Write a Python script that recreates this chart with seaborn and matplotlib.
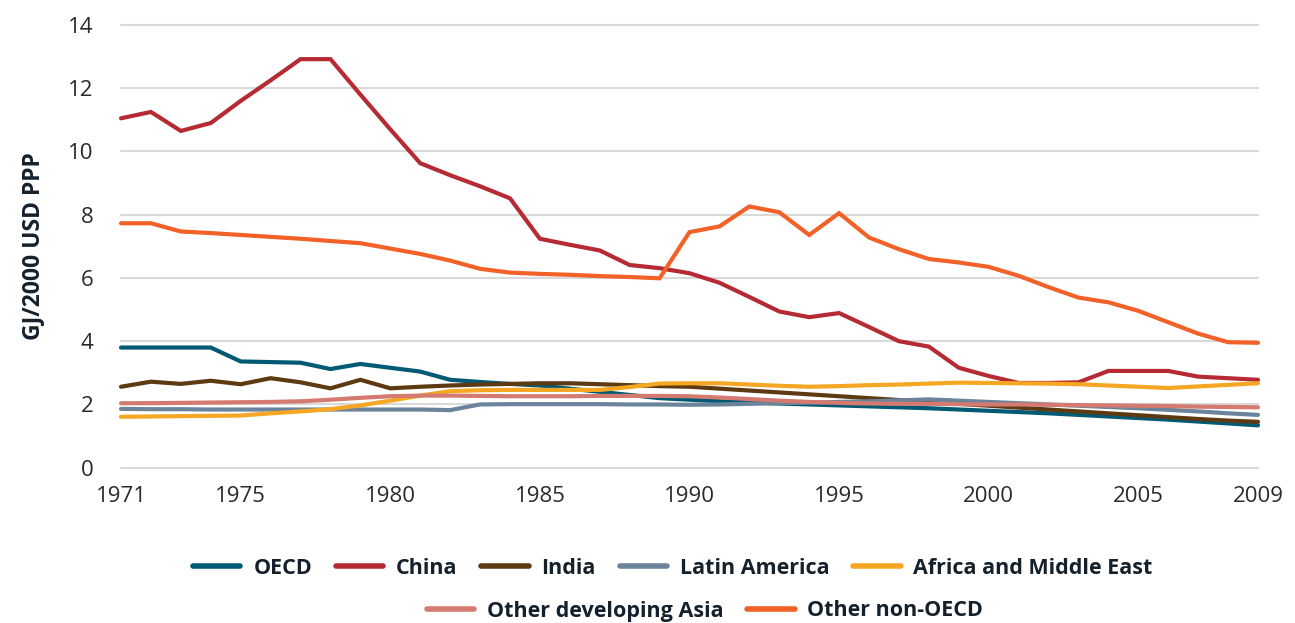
import matplotlib
matplotlib.use("Agg")
import matplotlib.pyplot as plt
import seaborn as sns
import pandas as pd

years = list(range(1971, 2010))

oecd = [3.80, 3.80, 3.80, 3.80, 3.36, 3.34, 3.32, 3.12, 3.28, 3.16,
        3.04, 2.78, 2.71, 2.65, 2.60, 2.50, 2.40, 2.30, 2.20, 2.15,
        2.10, 2.07, 2.03, 2.00, 1.97, 1.94, 1.91, 1.88, 1.84, 1.80,
        1.76, 1.72, 1.67, 1.62, 1.57, 1.52, 1.46, 1.40, 1.34]
china = [11.05, 11.25, 10.65, 10.90, 11.60, 12.25, 12.92, 12.92, 11.80, 10.70,
         9.63, 9.25, 8.90, 8.52, 7.24, 7.05, 6.87, 6.41, 6.31, 6.15,
         5.85, 5.40, 4.94, 4.76, 4.89, 4.45, 4.00, 3.83, 3.16, 2.90,
         2.68, 2.68, 2.70, 3.06, 3.06, 3.06, 2.88, 2.83, 2.78]
india = [2.56, 2.72, 2.65, 2.75, 2.64, 2.83, 2.70, 2.51, 2.78, 2.51,
         2.56, 2.60, 2.63, 2.65, 2.67, 2.67, 2.64, 2.61, 2.58, 2.56,
         2.50, 2.44, 2.38, 2.32, 2.26, 2.20, 2.14, 2.08, 2.02, 1.96,
         1.90, 1.84, 1.78, 1.72, 1.66, 1.60, 1.54, 1.49, 1.45]
latin_america = [1.86, 1.85, 1.85, 1.84, 1.84, 1.84, 1.84, 1.84, 1.84, 1.84,
                 1.84, 1.82, 2.00, 2.01, 2.01, 2.01, 2.01, 2.00, 2.00, 1.99,
                 2.00, 2.02, 2.04, 2.06, 2.08, 2.10, 2.13, 2.16, 2.12, 2.08,
                 2.04, 2.00, 1.96, 1.92, 1.88, 1.83, 1.78, 1.72, 1.67]
africa_me = [1.61, 1.62, 1.63, 1.64, 1.65, 1.72, 1.78, 1.85, 1.97, 2.12,
             2.28, 2.42, 2.45, 2.46, 2.46, 2.46, 2.46, 2.55, 2.66, 2.67,
             2.67, 2.63, 2.59, 2.56, 2.58, 2.61, 2.63, 2.66, 2.69, 2.68,
             2.67, 2.66, 2.64, 2.60, 2.56, 2.52, 2.57, 2.62, 2.67]
other_asia = [2.04, 2.04, 2.05, 2.06, 2.07, 2.08, 2.10, 2.15, 2.21, 2.26,
              2.28, 2.28, 2.27, 2.26, 2.26, 2.26, 2.27, 2.27, 2.27, 2.26,
              2.22, 2.17, 2.12, 2.08, 2.05, 2.03, 2.02, 2.02, 2.01, 2.00,
              2.00, 1.99, 1.98, 1.97, 1.96, 1.95, 1.93, 1.92, 1.91]
other_non_oecd = [7.73, 7.73, 7.47, 7.42, 7.36, 7.30, 7.24, 7.17, 7.10, 6.93,
                  6.76, 6.55, 6.29, 6.17, 6.13, 6.10, 6.06, 6.03, 5.99, 7.45,
                  7.63, 8.26, 8.08, 7.36, 8.05, 7.28, 6.91, 6.60, 6.49, 6.35,
                  6.07, 5.71, 5.38, 5.23, 4.96, 4.60, 4.24, 3.97, 3.95]

series_names = ["OECD", "China", "India", "Latin America",
                "Africa and Middle East", "Other developing Asia", "Other non-OECD"]
series_values = [oecd, china, india, latin_america, africa_me, other_asia, other_non_oecd]
colors = ["#005A73", "#B52A33", "#5E3A12", "#6B849B", "#F5A623", "#D47A70", "#F26127"]

xtick_years = [1971, 1975, 1980, 1985, 1990, 1995, 2000, 2005, 2009]
yticks = [0, 2, 4, 6, 8, 10, 12, 14]

rows = []
for name, vals in zip(series_names, series_values):
    for y, v in zip(years, vals):
        rows.append({"Year": y, "Value": v, "Region": name})
df = pd.DataFrame(rows)

sns.set_theme(style="white")
plt.rcParams["font.family"] = ["Open Sans", "DejaVu Sans"]
text_color = "#14202B"

fig = plt.figure(figsize=(12.95, 6.23), dpi=100)
ax = fig.add_axes([121 / 1295, 1 - 467.7 / 623, (1258 - 121) / 1295, (467.7 - 25) / 623])

sns.lineplot(data=df, x="Year", y="Value", hue="Region", hue_order=series_names,
             palette=colors, linewidth=3, ax=ax, legend=True)

ax.set_xlim(1971, 2009)
ax.set_ylim(0, 14)
ax.set_yticks(yticks)
ax.set_xticks(xtick_years)
ax.set_xticklabels([str(y) for y in xtick_years])
ax.yaxis.grid(True, color="#D9D9D9", linewidth=1.5, zorder=0)
ax.xaxis.grid(False)
ax.set_axisbelow(True)
for s in ax.spines.values():
    s.set_visible(False)
ax.tick_params(axis="both", length=0, labelsize=16, colors="#2A2A2A")
ax.tick_params(axis="y", pad=20)
ax.tick_params(axis="x", pad=13)
for gl in ax.get_ygridlines():
    gl.set_clip_on(False)
for ln in ax.get_lines():
    ln.set_clip_on(False)
    ln.set_solid_joinstyle("miter")
ax.set_xlabel("")
ax.set_ylabel("GJ/2000 USD PPP", fontsize=16.5, fontweight="bold", color=text_color, labelpad=16)

handles, labels = ax.get_legend_handles_labels()
ax.get_legend().remove()
for h in handles:
    h.set_linewidth(4)

leg_kw = dict(frameon=False, handlelength=2.2, handletextpad=0.6, columnspacing=1.1,
              prop={"size": 15.5, "weight": "bold"}, labelcolor=text_color, loc="center")
fig.legend(handles[:5], labels[:5], ncol=5, bbox_to_anchor=(673 / 1295, 1 - 568 / 623), **leg_kw)
fig.legend(handles[5:], labels[5:], ncol=2, bbox_to_anchor=(705 / 1295, 1 - 611 / 623), **leg_kw)

fig.savefig("out.png", dpi=100)
